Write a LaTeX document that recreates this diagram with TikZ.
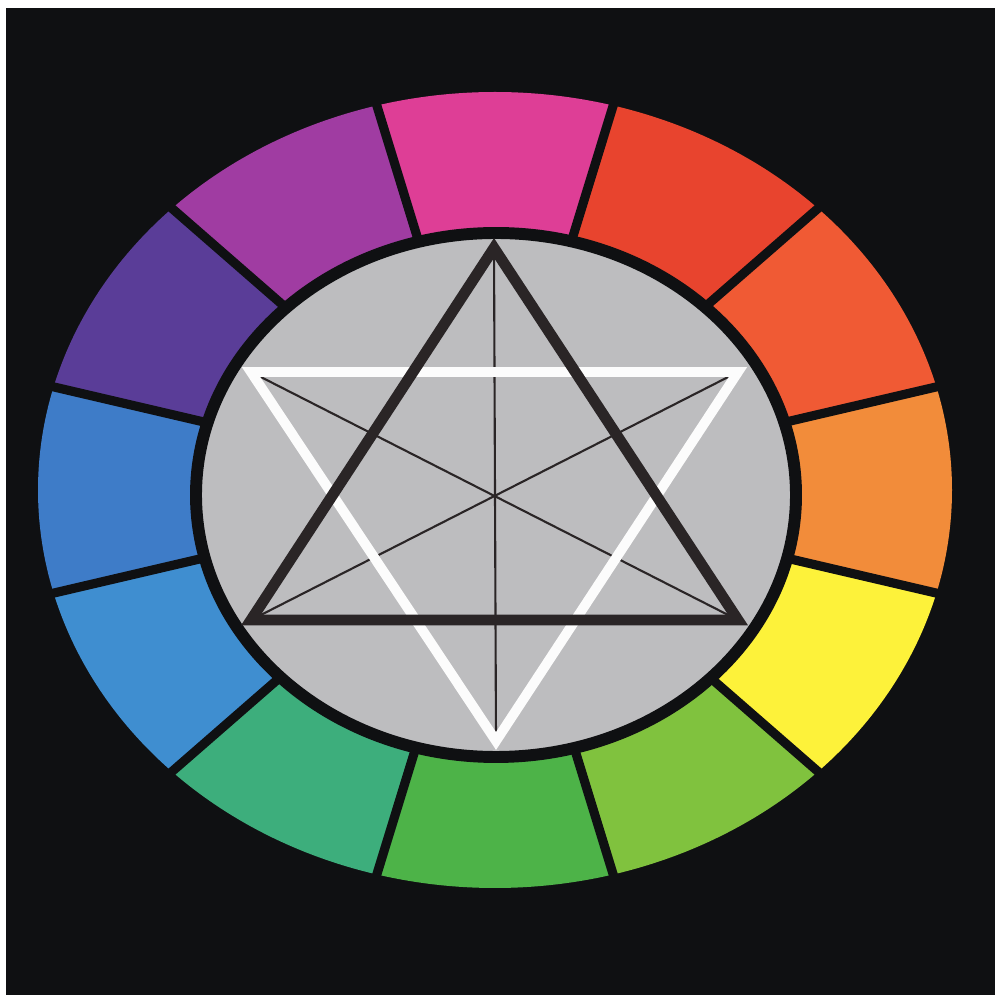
\documentclass[tikz,border=0pt]{standalone}
\usepackage{tikz}
\usetikzlibrary{calc}
\definecolor{cwbg}{HTML}{0F1012}
\definecolor{cwgrey}{HTML}{BDBDBF}
\definecolor{cwdark}{HTML}{2A2526}
\definecolor{cwmagenta}{HTML}{DE3E96}
\definecolor{cwred}{HTML}{E8442E}
\definecolor{cwredorange}{HTML}{F05A34}
\definecolor{cworange}{HTML}{F28C3A}
\definecolor{cwyellow}{HTML}{FDF23A}
\definecolor{cwlime}{HTML}{80C23E}
\definecolor{cwgreen}{HTML}{4DB348}
\definecolor{cwteal}{HTML}{3DAE7C}
\definecolor{cwsky}{HTML}{3F8ED0}
\definecolor{cwblue}{HTML}{3E7CC8}
\definecolor{cwviolet}{HTML}{5A3D98}
\definecolor{cwpurple}{HTML}{A03CA2}

\begin{document}
\begin{tikzpicture}[
    x=0.1mm, y=0.1mm,
    divider/.style={draw=cwbg, line width=2.6pt},
    rim/.style={fill=cwgrey, draw=cwbg, line width=3.4pt},
    darktri/.style={draw=cwdark, line width=3.1pt},
    lighttri/.style={draw=white!96!cwgrey, line width=2.8pt},
    guide/.style={draw=cwdark, line width=0.6pt}]
  \useasboundingbox (0,0) rectangle (995,995);
  \fill[white] (0,0) rectangle (995,995);
  \fill[cwbg] (6,0) rectangle (995,987);
  \coordinate (wheel) at (495,505);
  \coordinate (hub) at (496,500);
  \foreach \a/\c [evaluate=\a as \lo using \a-15, evaluate=\a as \hi using \a+15] in
      {90/cwmagenta, 60/cwred, 30/cwredorange, 0/cworange, -30/cwyellow, -60/cwlime,
       -90/cwgreen, -120/cwteal, -150/cwsky, -180/cwblue, -210/cwviolet, -240/cwpurple}
    \fill[\c] (wheel) -- ($(wheel)+(\lo:45.7mm and 39.8mm)$)
      arc[start angle=\lo, end angle=\hi, x radius=45.7mm, y radius=39.8mm] -- cycle;
  \foreach \a in {15,45,...,345}
    \draw[divider] (wheel) -- ($(wheel)+(\a:46mm and 40.1mm)$);
  \draw[rim] (hub) ellipse[x radius=30mm, y radius=26.2mm];
  \coordinate (dtop) at (494,747);
  \coordinate (dleft) at (251,375);
  \coordinate (dright) at (738,375);
  \coordinate (wleft) at (251,623);
  \coordinate (wright) at (738,623);
  \coordinate (wbottom) at (496,254);
  \draw[guide] (dtop) -- (wbottom);
  \draw[guide] (wleft) -- (dright);
  \draw[guide] (wright) -- (dleft);
  \draw[lighttri] (wleft) -- (wright) -- (wbottom) -- cycle;
  \draw[darktri] (dtop) -- (dleft) -- (dright) -- cycle;
\end{tikzpicture}
\end{document}
